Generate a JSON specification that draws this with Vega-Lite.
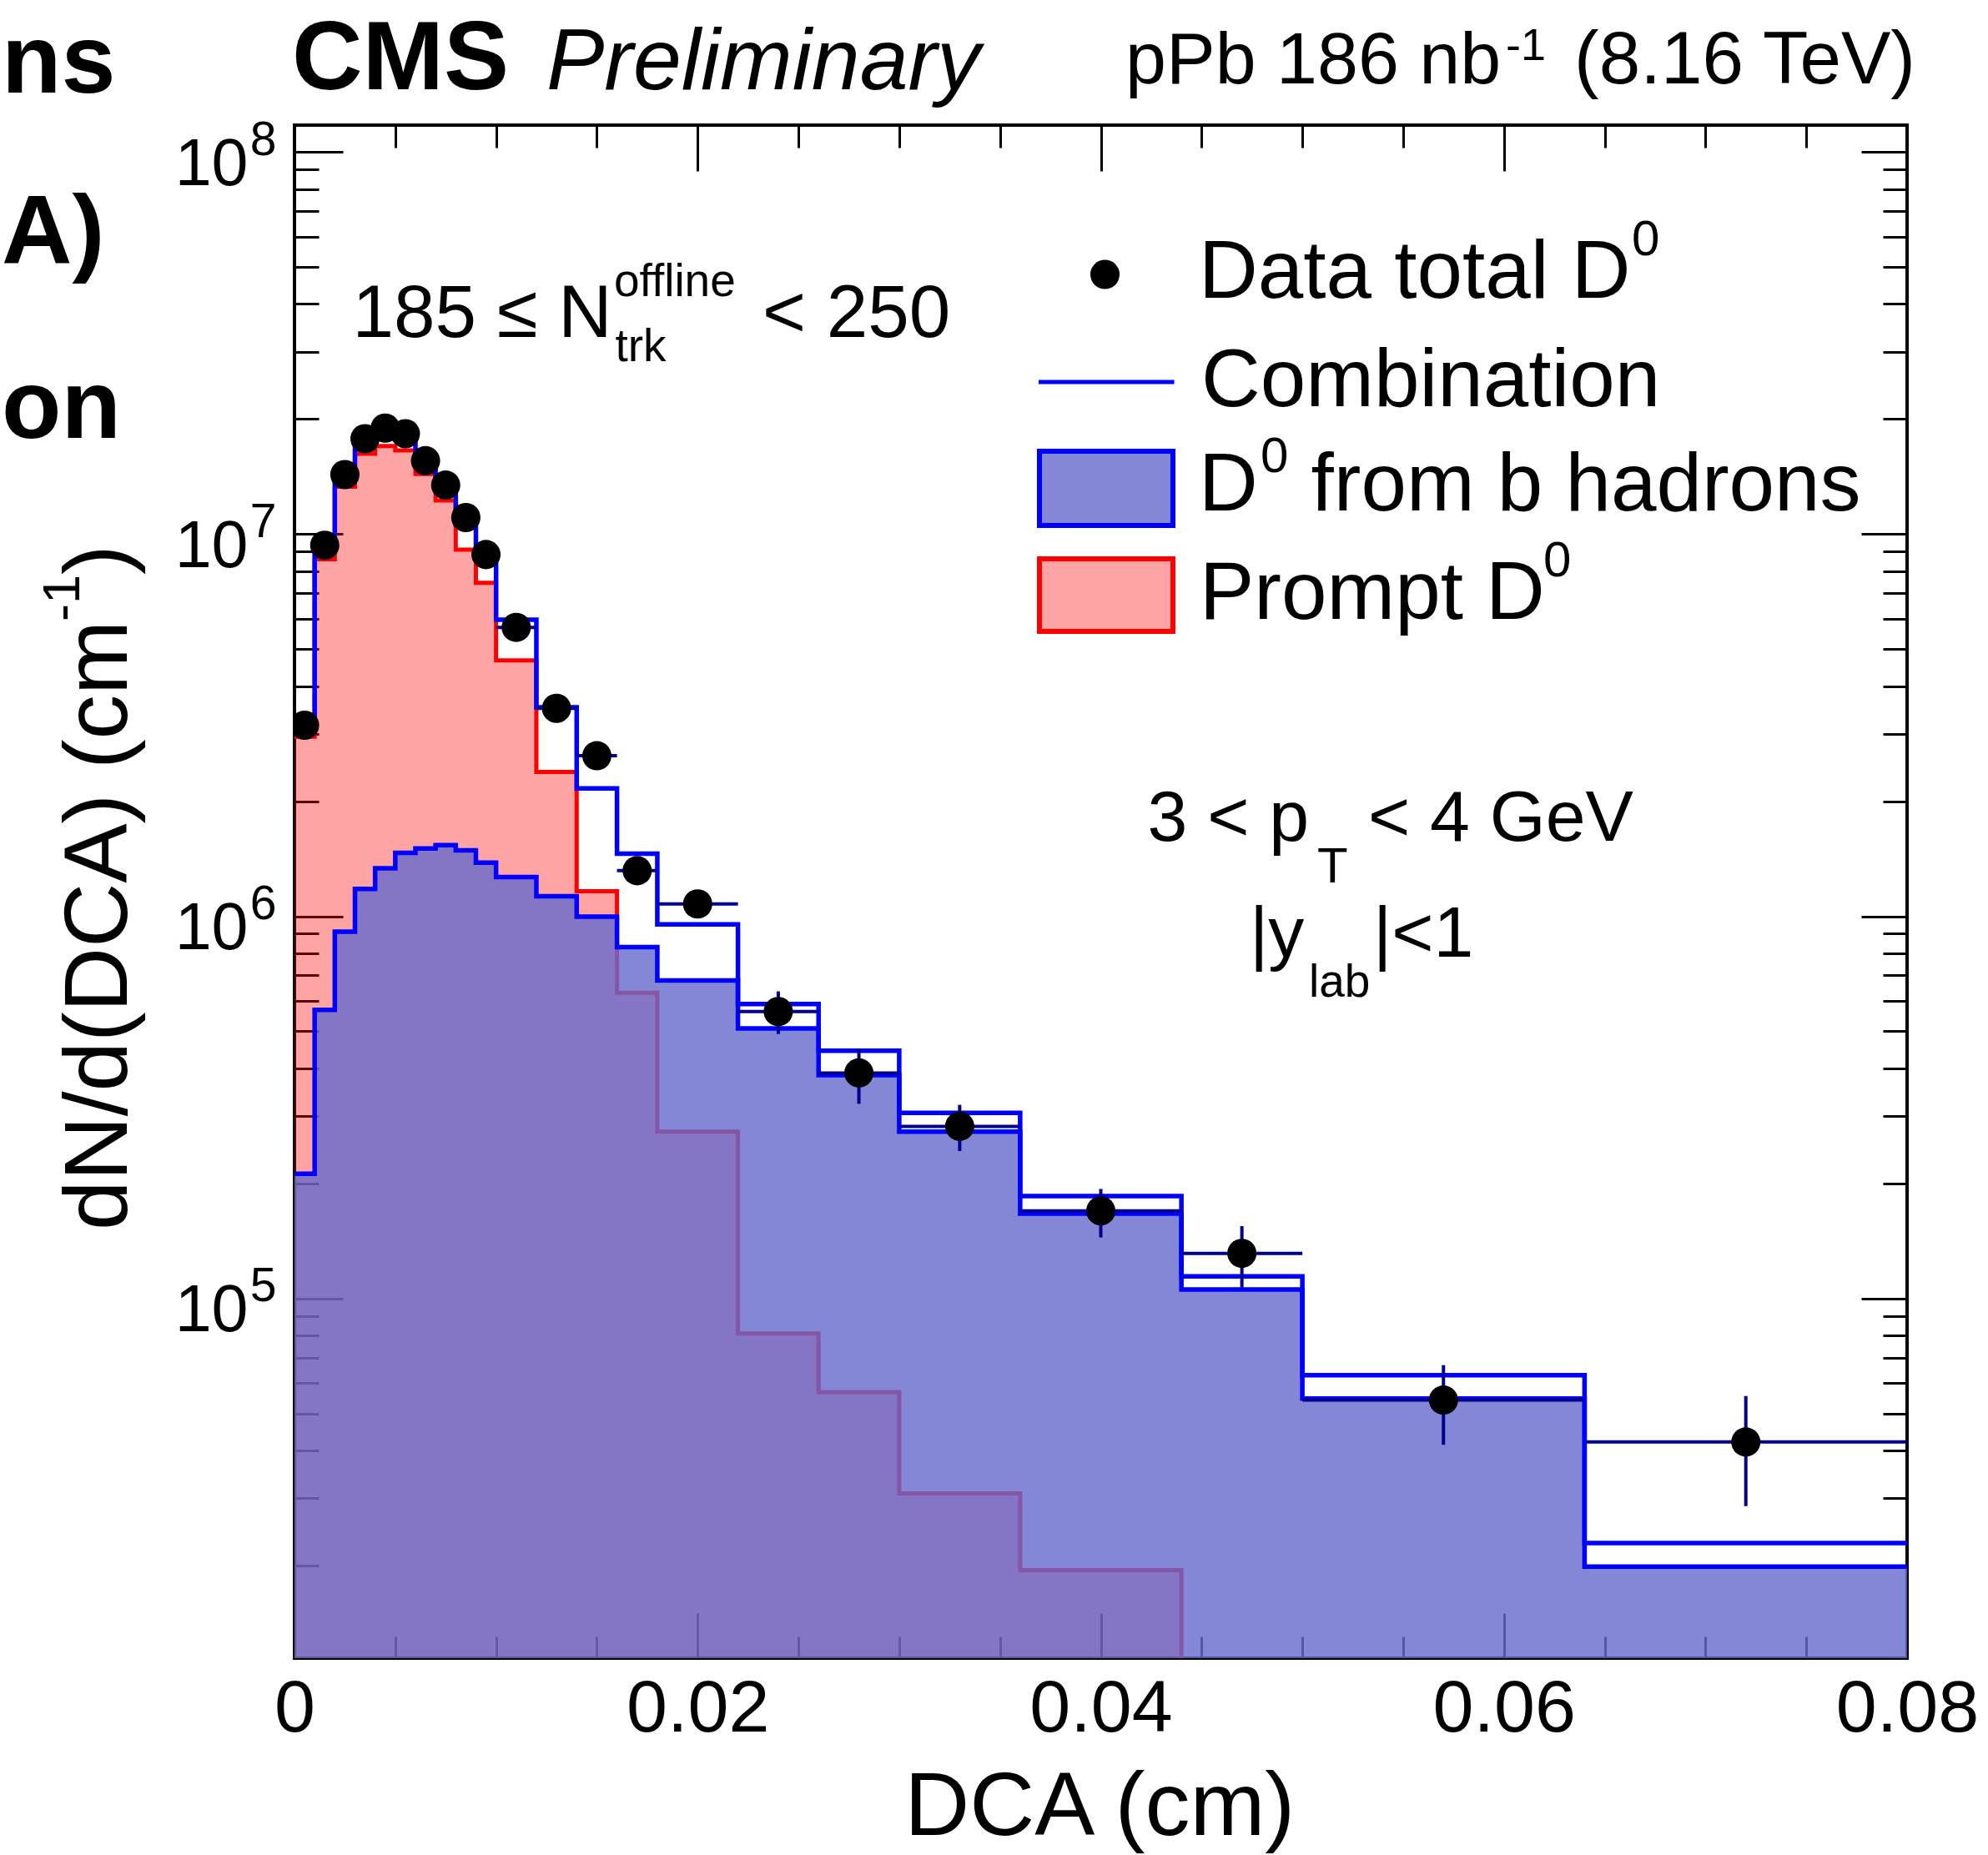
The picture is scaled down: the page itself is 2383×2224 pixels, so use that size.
{
"$schema": "https://vega.github.io/schema/vega-lite/v6.json",
"width": 1933, "height": 1838,
"autosize": {"type": "none"},
"padding": {"left": 353, "top": 150, "right": 97, "bottom": 236},
"background": "white",
"config": {
  "view": {"stroke": "black", "strokeWidth": 4},
  "font": "Liberation Sans",
  "axis": {"labelFont": "Liberation Sans", "labelColor": "black", "tickColor": "black", "tickWidth": 3, "domain": false, "grid": false, "labelFlush": false, "labelOverlap": false, "labelBound": false, "title": null}
},
"datasets": {
  "bins": [
    {"lo":0,"hi":0.001,"center":0.0005,"data":3160000,"elo":3070000,"ehi":3250000,"prompt":2950000,"bhad":212000,"comb":3160000},
    {"lo":0.001,"hi":0.002,"center":0.0015,"data":9350000,"elo":9070000,"ehi":9630000,"prompt":8590000,"bhad":569000,"comb":9160000},
    {"lo":0.002,"hi":0.003,"center":0.0025,"data":14310000,"elo":13880000,"ehi":14740000,"prompt":13300000,"bhad":911000,"comb":14210000},
    {"lo":0.003,"hi":0.004,"center":0.0035,"data":17760000,"elo":17230000,"ehi":18290000,"prompt":16220000,"bhad":1179000,"comb":17400000},
    {"lo":0.004,"hi":0.005,"center":0.0045,"data":18940000,"elo":18370000,"ehi":19510000,"prompt":17000000,"bhad":1335000,"comb":18340000},
    {"lo":0.005,"hi":0.006,"center":0.0055,"data":18310000,"elo":17760000,"ehi":18860000,"prompt":16560000,"bhad":1466000,"comb":18030000},
    {"lo":0.006,"hi":0.007,"center":0.0065,"data":15560000,"elo":15090000,"ehi":16030000,"prompt":14360000,"bhad":1504000,"comb":15860000},
    {"lo":0.007,"hi":0.008,"center":0.0075,"data":13430000,"elo":13030000,"ehi":13830000,"prompt":12240000,"bhad":1535000,"comb":13780000},
    {"lo":0.008,"hi":0.009,"center":0.0085,"data":11050000,"elo":10720000,"ehi":11380000,"prompt":9100000,"bhad":1488000,"comb":10600000},
    {"lo":0.009,"hi":0.01,"center":0.0095,"data":8840000,"elo":8570000,"ehi":9110000,"prompt":7460000,"bhad":1381000,"comb":8840000},
    {"lo":0.01,"hi":0.012,"center":0.011,"data":5700000,"elo":5420000,"ehi":5990000,"prompt":4670000,"bhad":1266000,"comb":5970000},
    {"lo":0.012,"hi":0.014,"center":0.013,"data":3500000,"elo":3330000,"ehi":3680000,"prompt":2385000,"bhad":1128000,"comb":3520000},
    {"lo":0.014,"hi":0.016,"center":0.015,"data":2630000,"elo":2500000,"ehi":2760000,"prompt":1163000,"bhad":997000,"comb":2160000},
    {"lo":0.016,"hi":0.018,"center":0.017,"data":1316000,"elo":1250000,"ehi":1380000,"prompt":631000,"bhad":830000,"comb":1458000},
    {"lo":0.018,"hi":0.022,"center":0.02,"data":1077000,"elo":990000,"ehi":1160000,"prompt":273000,"bhad":679000,"comb":952000},
    {"lo":0.022,"hi":0.026,"center":0.024,"data":563000,"elo":492000,"ehi":636000,"prompt":81000,"bhad":509000,"comb":589000},
    {"lo":0.026,"hi":0.03,"center":0.028,"data":389000,"elo":323000,"ehi":450000,"prompt":56900,"bhad":384000,"comb":445000},
    {"lo":0.03,"hi":0.036,"center":0.033,"data":282000,"elo":243000,"ehi":321000,"prompt":30900,"bhad":273000,"comb":306000},
    {"lo":0.036,"hi":0.044,"center":0.04,"data":169500,"elo":144400,"ehi":193400,"prompt":19460,"bhad":166800,"comb":185300},
    {"lo":0.044,"hi":0.05,"center":0.047,"data":131200,"elo":106800,"ehi":154600,"prompt":8700,"bhad":105500,"comb":114200},
    {"lo":0.05,"hi":0.064,"center":0.057,"data":54200,"elo":41400,"ehi":66900,"prompt":8300,"bhad":54700,"comb":63000},
    {"lo":0.064,"hi":0.08,"center":0.072,"data":42100,"elo":28600,"ehi":55500,"prompt":3000,"bhad":19860,"comb":22900}
  ]
},
"resolve": {"axis": {"x": "independent", "y": "independent"}},
"layer": [
  {"data": {"name": "bins"}, "transform": [{"fold": ["lo", "hi"], "as": ["edge", "dca"]}],
   "mark": {"type": "area", "color": "#ff0000", "opacity": 0.357, "clip": true, "interpolate": "linear"},
   "encoding": {
     "x": {"field": "dca", "type": "quantitative", "scale": {"domain": [0, 0.08], "nice": false, "zero": false},
           "axis": {"orient": "bottom", "values": [0, 0.02, 0.04, 0.06, 0.08], "ticks": false, "labelFontSize": 88, "labelPadding": 87, "labelBaseline": "alphabetic", "labelExpr": "datum.value == 0 ? '0' : format(datum.value, '.2f')"}},
     "y": {"field": "prompt", "type": "quantitative", "stack": null, "scale": {"type": "log", "domain": [11447, 117520000], "nice": false},
           "axis": {"orient": "left", "values": [100000, 1000000, 10000000, 100000000], "ticks": false, "labelFontSize": 79, "labelPadding": 56, "labelAlign": "right", "labelBaseline": "alphabetic", "labelOffset": 39, "labelExpr": "'10'"}},
     "y2": {"datum": 1000},
     "order": [{"field": "dca", "type": "quantitative"}, {"field": "edge", "type": "ordinal"}]
   }},
  {"data": {"name": "bins"}, "transform": [{"fold": ["lo", "hi"], "as": ["edge", "dca"]}],
   "mark": {"type": "line", "color": "#ff0000", "strokeWidth": 5, "clip": true, "interpolate": "linear"},
   "encoding": {
     "x": {"field": "dca", "type": "quantitative", "scale": {"domain": [0, 0.08], "nice": false, "zero": false},
           "axis": {"orient": "bottom", "values": [0, 0.02, 0.04, 0.06, 0.08], "labels": false, "tickSize": -54}},
     "y": {"field": "prompt", "type": "quantitative", "scale": {"type": "log", "domain": [11447, 117520000], "nice": false},
           "axis": {"orient": "left", "values": [100000, 1000000, 10000000, 100000000], "ticks": false, "labelFontSize": 57, "labelPadding": 22, "labelAlign": "right", "labelBaseline": "alphabetic", "labelOffset": 3, "labelExpr": "'' + round(log(datum.value)/LN10)"}},
     "order": [{"field": "dca", "type": "quantitative"}, {"field": "edge", "type": "ordinal"}]
   }},
  {"data": {"name": "bins"}, "transform": [{"fold": ["lo", "hi"], "as": ["edge", "dca"]}],
   "mark": {"type": "area", "color": "#676acc", "opacity": 0.81, "clip": true, "interpolate": "linear"},
   "encoding": {
     "x": {"field": "dca", "type": "quantitative", "scale": {"domain": [0, 0.08], "nice": false, "zero": false},
           "axis": {"orient": "bottom", "values": [0.005, 0.01, 0.015, 0.025, 0.03, 0.035, 0.045, 0.05, 0.055, 0.065, 0.07, 0.075], "labels": false, "tickSize": -26}},
     "y": {"field": "bhad", "type": "quantitative", "stack": null, "scale": {"type": "log", "domain": [11447, 117520000], "nice": false},
           "axis": {"orient": "left", "values": [100000, 1000000, 10000000, 100000000], "labels": false, "tickSize": -58}},
     "y2": {"datum": 1000},
     "order": [{"field": "dca", "type": "quantitative"}, {"field": "edge", "type": "ordinal"}]
   }},
  {"data": {"name": "bins"}, "transform": [{"fold": ["lo", "hi"], "as": ["edge", "dca"]}],
   "mark": {"type": "line", "color": "#0000ff", "strokeWidth": 5.5, "clip": true, "interpolate": "linear"},
   "encoding": {
     "x": {"field": "dca", "type": "quantitative", "scale": {"domain": [0, 0.08], "nice": false, "zero": false},
           "axis": {"orient": "top", "values": [0, 0.02, 0.04, 0.06, 0.08], "labels": false, "tickSize": -55}},
     "y": {"field": "bhad", "type": "quantitative", "scale": {"type": "log", "domain": [11447, 117520000], "nice": false},
           "axis": {"orient": "left", "values": [20000,30000,40000,50000,60000,70000,80000,90000,200000,300000,400000,500000,600000,700000,800000,900000,2000000,3000000,4000000,5000000,6000000,7000000,8000000,9000000,20000000,30000000,40000000,50000000,60000000,70000000,80000000,90000000], "labels": false, "tickSize": -29}},
     "order": [{"field": "dca", "type": "quantitative"}, {"field": "edge", "type": "ordinal"}]
   }},
  {"data": {"name": "bins"}, "transform": [{"fold": ["lo", "hi"], "as": ["edge", "dca"]}],
   "mark": {"type": "line", "color": "#0000ff", "strokeWidth": 5.5, "clip": true, "interpolate": "linear"},
   "encoding": {
     "x": {"field": "dca", "type": "quantitative", "scale": {"domain": [0, 0.08], "nice": false, "zero": false},
           "axis": {"orient": "top", "values": [0.005, 0.01, 0.015, 0.025, 0.03, 0.035, 0.045, 0.05, 0.055, 0.065, 0.07, 0.075], "labels": false, "tickSize": -27}},
     "y": {"field": "comb", "type": "quantitative", "scale": {"type": "log", "domain": [11447, 117520000], "nice": false},
           "axis": {"orient": "right", "values": [100000, 1000000, 10000000, 100000000], "labels": false, "tickSize": -55}},
     "order": [{"field": "dca", "type": "quantitative"}, {"field": "edge", "type": "ordinal"}]
   }},
  {"data": {"name": "bins"},
   "mark": {"type": "rule", "color": "#00008f", "strokeWidth": 4, "clip": true},
   "encoding": {
     "x": {"field": "center", "type": "quantitative", "scale": {"domain": [0, 0.08], "nice": false, "zero": false}, "axis": null},
     "y": {"field": "elo", "type": "quantitative", "scale": {"type": "log", "domain": [11447, 117520000], "nice": false},
           "axis": {"orient": "right", "values": [20000,30000,40000,50000,60000,70000,80000,90000,200000,300000,400000,500000,600000,700000,800000,900000,2000000,3000000,4000000,5000000,6000000,7000000,8000000,9000000,20000000,30000000,40000000,50000000,60000000,70000000,80000000,90000000], "labels": false, "tickSize": -29}},
     "y2": {"field": "ehi"}
   }},
  {"data": {"name": "bins"},
   "mark": {"type": "rule", "color": "#00008f", "strokeWidth": 4, "clip": true},
   "encoding": {
     "x": {"field": "lo", "type": "quantitative", "scale": {"domain": [0, 0.08], "nice": false, "zero": false}, "axis": null},
     "x2": {"field": "hi"},
     "y": {"field": "data", "type": "quantitative", "scale": {"type": "log", "domain": [11447, 117520000], "nice": false}, "axis": null}
   }},
  {"data": {"name": "bins"},
   "mark": {"type": "point", "shape": "circle", "filled": true, "color": "black", "opacity": 1, "size": 1230, "clip": true},
   "encoding": {
     "x": {"field": "center", "type": "quantitative", "scale": {"domain": [0, 0.08], "nice": false, "zero": false}, "axis": null},
     "y": {"field": "data", "type": "quantitative", "scale": {"type": "log", "domain": [11447, 117520000], "nice": false}, "axis": null}
   }},

  {"data": {"values": [{}]}, "mark": {"type": "point", "shape": "circle", "filled": true, "color": "black", "opacity": 1, "size": 1230},
   "encoding": {"x": {"datum": 0.040207, "type": "quantitative", "axis": null}, "y": {"datum": 47793000, "type": "quantitative", "axis": null}}},
  {"data": {"values": [{}]}, "mark": {"type": "rule", "color": "#0000ff", "strokeWidth": 5},
   "encoding": {"x": {"datum": 0.036917, "type": "quantitative", "axis": null}, "x2": {"datum": 0.043642}, "y": {"datum": 24995000, "type": "quantitative", "axis": null}}},
  {"data": {"values": [{}]}, "mark": {"type": "rect", "fill": "#676acc", "fillOpacity": 0.81, "stroke": "#0000ff", "strokeWidth": 6},
   "encoding": {"x": {"datum": 0.036958, "type": "quantitative", "axis": null}, "x2": {"datum": 0.04358}, "y": {"datum": 16472000, "type": "quantitative", "axis": null}, "y2": {"datum": 10531000}}},
  {"data": {"values": [{}]}, "mark": {"type": "rect", "fill": "#ff0000", "fillOpacity": 0.357, "stroke": "#ff0000", "strokeWidth": 6},
   "encoding": {"x": {"datum": 0.036958, "type": "quantitative", "axis": null}, "x2": {"datum": 0.04358}, "y": {"datum": 8613500, "type": "quantitative", "axis": null}, "y2": {"datum": 5563800}}},

  {"data": {"values": [{}]}, "mark": {"type": "text", "text": "CMS", "fontWeight": "bold", "fontSize": 117, "align": "left", "baseline": "alphabetic", "color": "black"},
   "encoding": {"x": {"datum": -0.000124, "type": "quantitative", "axis": null}, "y": {"datum": 146000000, "type": "quantitative", "axis": null}}},
  {"data": {"values": [{}]}, "mark": {"type": "text", "text": "Preliminary", "fontStyle": "italic", "fontSize": 104, "align": "left", "baseline": "alphabetic", "color": "black"},
   "encoding": {"x": {"datum": 0.012499, "type": "quantitative", "axis": null}, "y": {"datum": 146000000, "type": "quantitative", "axis": null}}},
  {"data": {"values": [{}]}, "mark": {"type": "text", "text": "pPb 186 nb", "fontSize": 88, "align": "left", "baseline": "alphabetic", "color": "black"},
   "encoding": {"x": {"datum": 0.041222, "type": "quantitative", "axis": null}, "y": {"datum": 151470000, "type": "quantitative", "axis": null}}},
  {"data": {"values": [{}]}, "mark": {"type": "text", "text": "-1", "fontSize": 54, "align": "left", "baseline": "alphabetic", "color": "black"},
   "encoding": {"x": {"datum": 0.060094, "type": "quantitative", "axis": null}, "y": {"datum": 174000000, "type": "quantitative", "axis": null}}},
  {"data": {"values": [{}]}, "mark": {"type": "text", "text": "(8.16 TeV)", "fontSize": 89, "align": "right", "baseline": "alphabetic", "color": "black"},
   "encoding": {"x": {"datum": 0.080414, "type": "quantitative", "axis": null}, "y": {"datum": 151470000, "type": "quantitative", "axis": null}}},

  {"data": {"values": [{}]}, "mark": {"type": "text", "text": "185 ≤ N", "fontSize": 89, "align": "left", "baseline": "alphabetic", "color": "black"},
   "encoding": {"x": {"datum": 0.002876, "type": "quantitative", "axis": null}, "y": {"datum": 32794000, "type": "quantitative", "axis": null}}},
  {"data": {"values": [{}]}, "mark": {"type": "text", "text": "offline", "fontSize": 55, "align": "left", "baseline": "alphabetic", "color": "black"},
   "encoding": {"x": {"datum": 0.015851, "type": "quantitative", "axis": null}, "y": {"datum": 41940000, "type": "quantitative", "axis": null}}},
  {"data": {"values": [{}]}, "mark": {"type": "text", "text": "trk", "fontSize": 55, "align": "left", "baseline": "alphabetic", "color": "black"},
   "encoding": {"x": {"datum": 0.015913, "type": "quantitative", "axis": null}, "y": {"datum": 28344000, "type": "quantitative", "axis": null}}},
  {"data": {"values": [{}]}, "mark": {"type": "text", "text": "< 250", "fontSize": 89, "align": "left", "baseline": "alphabetic", "color": "black"},
   "encoding": {"x": {"datum": 0.023218, "type": "quantitative", "axis": null}, "y": {"datum": 32794000, "type": "quantitative", "axis": null}}},

  {"data": {"values": [{}]}, "mark": {"type": "text", "text": "3 < p", "fontSize": 86, "align": "left", "baseline": "alphabetic", "color": "black"},
   "encoding": {"x": {"datum": 0.042318, "type": "quantitative", "axis": null}, "y": {"datum": 1573700, "type": "quantitative", "axis": null}}},
  {"data": {"values": [{}]}, "mark": {"type": "text", "text": "T", "fontSize": 60, "align": "left", "baseline": "alphabetic", "color": "black"},
   "encoding": {"x": {"datum": 0.05074, "type": "quantitative", "axis": null}, "y": {"datum": 1224000, "type": "quantitative", "axis": null}}},
  {"data": {"values": [{}]}, "mark": {"type": "text", "text": "< 4 GeV", "fontSize": 86, "align": "left", "baseline": "alphabetic", "color": "black"},
   "encoding": {"x": {"datum": 0.053264, "type": "quantitative", "axis": null}, "y": {"datum": 1573700, "type": "quantitative", "axis": null}}},
  {"data": {"values": [{}]}, "mark": {"type": "text", "text": "|y", "fontSize": 86, "align": "left", "baseline": "alphabetic", "color": "black"},
   "encoding": {"x": {"datum": 0.047388, "type": "quantitative", "axis": null}, "y": {"datum": 784920, "type": "quantitative", "axis": null}}},
  {"data": {"values": [{}]}, "mark": {"type": "text", "text": "lab", "fontSize": 55, "align": "left", "baseline": "alphabetic", "color": "black"},
   "encoding": {"x": {"datum": 0.050326, "type": "quantitative", "axis": null}, "y": {"datum": 615730, "type": "quantitative", "axis": null}}},
  {"data": {"values": [{}]}, "mark": {"type": "text", "text": "|<1", "fontSize": 86, "align": "left", "baseline": "alphabetic", "color": "black"},
   "encoding": {"x": {"datum": 0.053513, "type": "quantitative", "axis": null}, "y": {"datum": 784920, "type": "quantitative", "axis": null}}},

  {"data": {"values": [{}]}, "mark": {"type": "text", "text": "Data total D", "fontSize": 98, "align": "left", "baseline": "alphabetic", "color": "black"},
   "encoding": {"x": {"datum": 0.044863, "type": "quantitative", "axis": null}, "y": {"datum": 41523000, "type": "quantitative", "axis": null}}},
  {"data": {"values": [{}]}, "mark": {"type": "text", "text": "0", "fontSize": 60, "align": "left", "baseline": "alphabetic", "color": "black"},
   "encoding": {"x": {"datum": 0.066343, "type": "quantitative", "axis": null}, "y": {"datum": 53645000, "type": "quantitative", "axis": null}}},
  {"data": {"values": [{}]}, "mark": {"type": "text", "text": "Combination", "fontSize": 98, "align": "left", "baseline": "alphabetic", "color": "black"},
   "encoding": {"x": {"datum": 0.044987, "type": "quantitative", "axis": null}, "y": {"datum": 21608000, "type": "quantitative", "axis": null}}},
  {"data": {"values": [{}]}, "mark": {"type": "text", "text": "D", "fontSize": 98, "align": "left", "baseline": "alphabetic", "color": "black"},
   "encoding": {"x": {"datum": 0.044863, "type": "quantitative", "axis": null}, "y": {"datum": 11529000, "type": "quantitative", "axis": null}}},
  {"data": {"values": [{}]}, "mark": {"type": "text", "text": "0", "fontSize": 60, "align": "left", "baseline": "alphabetic", "color": "black"},
   "encoding": {"x": {"datum": 0.047926, "type": "quantitative", "axis": null}, "y": {"datum": 14503000, "type": "quantitative", "axis": null}}},
  {"data": {"values": [{}]}, "mark": {"type": "text", "text": "from b hadrons", "fontSize": 98, "align": "left", "baseline": "alphabetic", "color": "black"},
   "encoding": {"x": {"datum": 0.05043, "type": "quantitative", "axis": null}, "y": {"datum": 11529000, "type": "quantitative", "axis": null}}},
  {"data": {"values": [{}]}, "mark": {"type": "text", "text": "Prompt D", "fontSize": 98, "align": "left", "baseline": "alphabetic", "color": "black"},
   "encoding": {"x": {"datum": 0.044904, "type": "quantitative", "axis": null}, "y": {"datum": 5989100, "type": "quantitative", "axis": null}}},
  {"data": {"values": [{}]}, "mark": {"type": "text", "text": "0", "fontSize": 60, "align": "left", "baseline": "alphabetic", "color": "black"},
   "encoding": {"x": {"datum": 0.061956, "type": "quantitative", "axis": null}, "y": {"datum": 7739600, "type": "quantitative", "axis": null}}},

  {"data": {"values": [{}]}, "mark": {"type": "text", "text": "dN/d(DCA) (cm", "fontSize": 107, "angle": 270, "align": "left", "baseline": "alphabetic", "color": "black"},
   "encoding": {"x": {"datum": -0.008331, "type": "quantitative", "axis": null}, "y": {"datum": 150780, "type": "quantitative", "axis": null}}},
  {"data": {"values": [{}]}, "mark": {"type": "text", "text": "-1", "fontSize": 63, "angle": 270, "align": "left", "baseline": "alphabetic", "color": "black"},
   "encoding": {"x": {"datum": -0.010678, "type": "quantitative", "axis": null}, "y": {"datum": 5908100, "type": "quantitative", "axis": null}}},
  {"data": {"values": [{}]}, "mark": {"type": "text", "text": ")", "fontSize": 107, "angle": 270, "align": "left", "baseline": "alphabetic", "color": "black"},
   "encoding": {"x": {"datum": -0.008331, "type": "quantitative", "axis": null}, "y": {"datum": 7829800, "type": "quantitative", "axis": null}}},
  {"data": {"values": [{}]}, "mark": {"type": "text", "text": "DCA (cm)", "font": "Liberation Sans", "fontSize": 108, "align": "center", "baseline": "alphabetic", "color": "black"},
   "encoding": {"x": {"datum": 0.039952, "type": "quantitative", "axis": null}, "y": {"datum": 3945, "type": "quantitative", "axis": null}}},

  {"data": {"values": [{}]}, "mark": {"type": "text", "text": "ns", "fontWeight": "bold", "fontSize": 117, "align": "left", "baseline": "alphabetic", "color": "black"},
   "encoding": {"x": {"datum": -0.014527, "type": "quantitative", "axis": null}, "y": {"datum": 143180000, "type": "quantitative", "axis": null}}},
  {"data": {"values": [{}]}, "mark": {"type": "text", "text": "A)", "fontWeight": "bold", "fontSize": 117, "align": "left", "baseline": "alphabetic", "color": "black"},
   "encoding": {"x": {"datum": -0.014527, "type": "quantitative", "axis": null}, "y": {"datum": 51020000, "type": "quantitative", "axis": null}}},
  {"data": {"values": [{}]}, "mark": {"type": "text", "text": "on", "fontWeight": "bold", "fontSize": 117, "align": "left", "baseline": "alphabetic", "color": "black"},
   "encoding": {"x": {"datum": -0.014527, "type": "quantitative", "axis": null}, "y": {"datum": 17852000, "type": "quantitative", "axis": null}}}
]
}
